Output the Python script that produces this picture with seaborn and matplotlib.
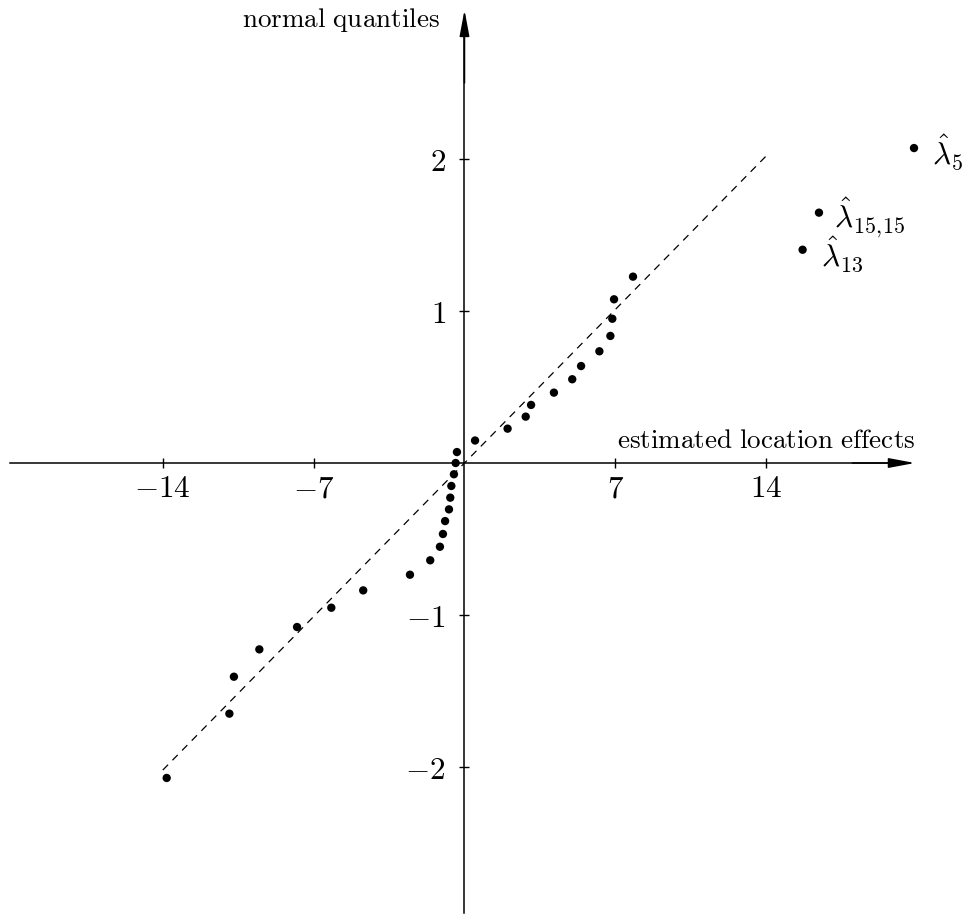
import numpy as np
import pandas as pd
import matplotlib
matplotlib.use("Agg")
import matplotlib.pyplot as plt
import seaborn as sns

# ---- data ----
effects = [-13.82, -10.91, -10.70, -9.52, -7.77, -6.18, -4.70, -2.53, -1.59,
           -1.14, -1.00, -0.90, -0.72, -0.66, -0.61, -0.49, -0.41, -0.35,
           0.49, 2.00, 2.84, 3.09, 4.15, 5.00, 5.41, 6.26, 6.77, 6.86, 6.94,
           7.82, 15.69, 16.45, 20.86]
quantiles = [-2.072, -1.649, -1.406, -1.226, -1.079, -0.952, -0.838, -0.735,
             -0.640, -0.551, -0.467, -0.382, -0.305, -0.228, -0.151, -0.074,
             0.0, 0.072, 0.148, 0.226, 0.305, 0.382, 0.463, 0.551, 0.638,
             0.735, 0.836, 0.949, 1.077, 1.226, 1.403, 1.647, 2.072]
ref_x = [-14, 14]
ref_y = [-2.02, 2.02]
label_names = [r"$\hat{\lambda}_{13}$", r"$\hat{\lambda}_{15,\!15}$", r"$\hat{\lambda}_{5}$"]
label_x = [15.69, 16.45, 20.86]
label_y = [1.403, 1.647, 2.072]
x_ticks = [-14, -7, 7, 14]
x_ticklabels = [r"$-14$", r"$-7$", r"$7$", r"$14$"]
y_ticks = [-2, -1, 1, 2]
y_ticklabels = [r"$-2$", r"$-1$", r"$1$", r"$2$"]

sns.set_theme(style="white")
plt.rcParams["mathtext.fontset"] = "cm"
plt.rcParams["font.family"] = ["DejaVu Serif"]

df = pd.DataFrame({"effect": effects, "quantile": quantiles})
ref = pd.DataFrame({"x": ref_x, "y": ref_y})

fig = plt.figure(figsize=(9.64, 9.14), dpi=100)
ax = fig.add_axes([0, 0, 1, 1])
ax.set_xlim(-21.555, 23.18)
ax.set_ylim(-2.967, 3.046)

sns.lineplot(data=ref, x="x", y="y", ax=ax, color="black", lw=0.9,
             linestyle=(0, (6, 5)), zorder=2)
sns.scatterplot(data=df, x="effect", y="quantile", ax=ax, color="black",
                s=36, edgecolor="none", zorder=5)

# axes through origin
for side in ["top", "right"]:
    ax.spines[side].set_visible(False)
ax.spines["left"].set_position(("data", 0))
ax.spines["bottom"].set_position(("data", 0))
ax.spines["bottom"].set_bounds(-21.09, 20.0)
ax.spines["left"].set_bounds(-2.96, 2.8)
for side in ["left", "bottom"]:
    ax.spines[side].set_color("black")
    ax.spines[side].set_linewidth(1.1)

arrow_kw = dict(arrowstyle="-|>,head_length=0.8,head_width=0.15",
                mutation_scale=20, lw=1.1, color="black", shrinkA=0, shrinkB=0)
ax.annotate("", xy=(20.9, 0), xytext=(18.0, 0), arrowprops=arrow_kw)
ax.annotate("", xy=(0, 2.98), xytext=(0, 2.5), arrowprops=arrow_kw)

ax.set_xticks(x_ticks)
ax.set_xticklabels(x_ticklabels, fontsize=22.5)
ax.set_yticks(y_ticks)
ax.set_yticklabels(y_ticklabels, fontsize=22.5)
ax.tick_params(axis="both", direction="inout", length=7, width=1,
               color="black", labelcolor="black", bottom=True, left=True)
ax.tick_params(axis="x", pad=4)
ax.tick_params(axis="y", pad=10)
ax.set_xlabel("")
ax.set_ylabel("")

ax.text(20.9, 0.1, r"$\mathrm{estimated\ location\ effects}$", fontsize=19.5,
        ha="right", va="baseline", color="black")
ax.text(-1.14, 2.914, r"$\mathrm{normal\ quantiles}$", fontsize=19.5,
        ha="right", va="center", color="black")

label_dx = [13, 10.5, 13]
for name, lx, ly, dx in zip(label_names, label_x, label_y, label_dx):
    ax.annotate(name, xy=(lx, ly), xytext=(dx, -3), textcoords="offset points",
                fontsize=22.5, ha="left", va="center", color="black")

fig.savefig("out.png", dpi=100)
